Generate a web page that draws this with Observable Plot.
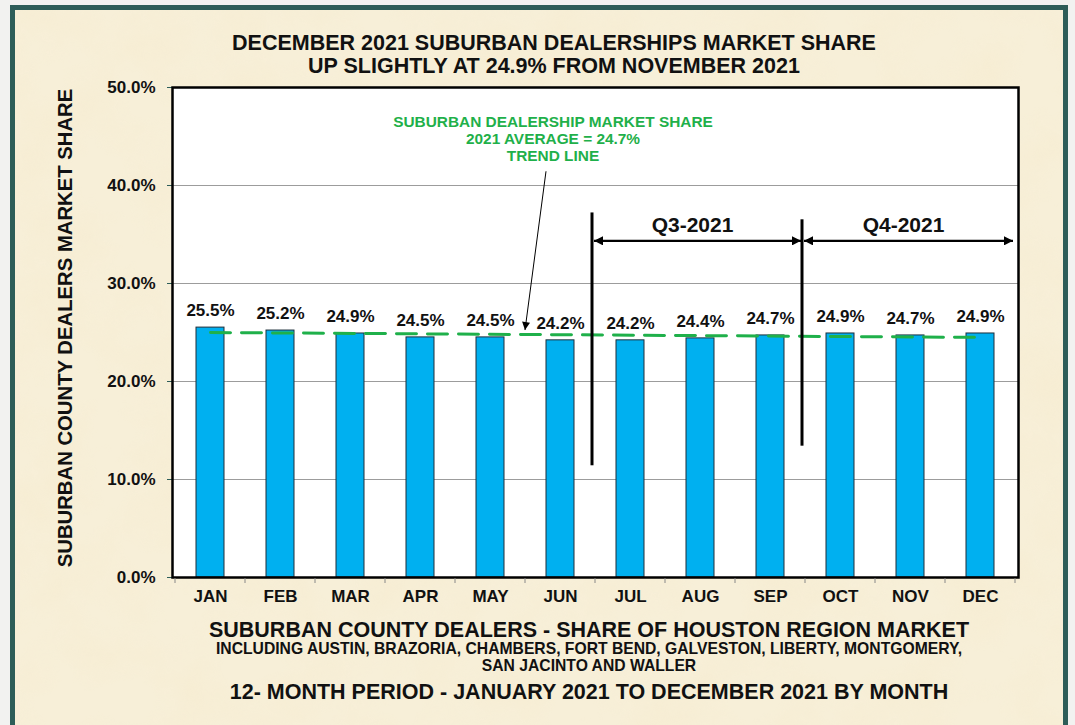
<!DOCTYPE html>
<html><head><meta charset="utf-8">
<script src="https://cdn.jsdelivr.net/npm/d3@7"></script>
<script src="https://cdn.jsdelivr.net/npm/@observablehq/plot@0.6"></script>
<style>
html,body{margin:0;padding:0;background:#f2f2f0;width:1075px;height:725px;overflow:hidden;font-family:"Liberation Sans",Arial,sans-serif;}
#frame{position:absolute;left:10px;top:5px;width:1048px;height:740px;border:5px solid #2d5d58;background:#f6edd4;overflow:hidden;}
#tex{position:absolute;left:0;top:0;}
#chart{position:absolute;left:0;top:0;}
</style></head><body>
<div id="frame">
<svg id="tex" width="1048" height="740">
  <filter id="paper" x="0" y="0" width="100%" height="100%">
    <feTurbulence type="fractalNoise" baseFrequency="0.015" numOctaves="4" seed="7"/>
    <feColorMatrix type="matrix" values="0 0 0 0 0.92  0 0 0 0 0.82  0 0 0 0 0.60  1.3 0 0 0 -0.5"/>
  </filter>
  <rect width="100%" height="100%" fill="#f7efd8"/>
  <rect width="100%" height="100%" filter="url(#paper)" opacity="0.6"/>
</svg>
</div>
<div id="chart"></div>
<script>
// ---- data ----
const months = ["JAN","FEB","MAR","APR","MAY","JUN","JUL","AUG","SEP","OCT","NOV","DEC"];
const shares = [25.5, 25.2, 24.9, 24.5, 24.5, 24.2, 24.2, 24.4, 24.7, 24.9, 24.7, 24.9];
const yTicks = [0, 10, 20, 30, 40, 50];
const gridValues = [10, 20, 30, 40];
const trendMonths = ["JAN", "DEC"];
const trendValues = [25.0, 24.5];
const quarterNames = ["Q3-2021", "Q4-2021"];
const quarterFirst = ["JUL", "OCT"];
const quarterLast = ["SEP", "DEC"];
const quarterLineLow = [11.4, 13.4];
const quarterLineHigh = [37.2, 36.5];
const quarterArrowY = 34.3;
const quarterLabelY = 35.2;
const titleLines = ["DECEMBER 2021 SUBURBAN DEALERSHIPS MARKET SHARE", "UP SLIGHTLY AT 24.9% FROM NOVEMBER 2021"];
const yLabel = "SUBURBAN COUNTY DEALERS MARKET SHARE";
const noteLines = ["SUBURBAN DEALERSHIP MARKET SHARE", "2021 AVERAGE = 24.7%", "TREND LINE"];
const noteY = [45.9, 44.2, 42.5];
const noteArrow = {month: "JUN", y1: 41.4, y2: 25.2};
const caption1 = "SUBURBAN COUNTY DEALERS - SHARE OF HOUSTON REGION MARKET";
const caption2 = ["INCLUDING AUSTIN, BRAZORIA, CHAMBERS, FORT BEND, GALVESTON, LIBERTY, MONTGOMERY,", "SAN JACINTO AND WALLER"];
const caption3 = "12- MONTH PERIOD - JANUARY 2021 TO DECEMBER 2021 BY MONTH";

const data = months.map((m, i) => ({month: m, share: shares[i]}));
const trend = trendMonths.map((m, i) => ({month: m, v: trendValues[i]}));
const FONT = "Liberation Sans, Arial, sans-serif";
const pct = d => d.toFixed(1) + "%";

const plot = Plot.plot({
  width: 1075, height: 725,
  marginLeft: 172, marginRight: 57, marginTop: 87, marginBottom: 148,
  style: {background: "transparent", fontFamily: FONT, overflow: "visible"},
  x: {domain: months, paddingInner: 0.6, paddingOuter: 0.3, label: null},
  y: {domain: [0, 50], label: null},
  marks: [
    Plot.frame({fill: "white", stroke: "none"}),
    Plot.ruleY(gridValues, {stroke: "#9c9c9c", strokeWidth: 1}),
    Plot.barY(data, {x: "month", y: "share", fill: "#00b0f0", stroke: "#1e2e3a", strokeWidth: 1}),
    Plot.line(trend, {x: "month", y: "v", stroke: "#1fb04a", strokeWidth: 3, strokeDasharray: "20,11"}),
    Plot.text(data, {x: "month", y: "share", text: d => pct(d.share), dy: -17, fontSize: 17, fontWeight: "bold", fill: "#111"}),
    Plot.axisY({ticks: yTicks, tickFormat: pct, tickSize: 5, tickPadding: 12, fontSize: 17, fontWeight: "bold", color: "#111", stroke: "#2d5d58", label: null}),
    Plot.axisX({tickSize: 0, tickPadding: 12, fontSize: 17, fontWeight: "bold", color: "#111", label: null}),
    Plot.frame({stroke: "#000", strokeWidth: 2.5})
  ]
});
document.getElementById("chart").appendChild(plot);

const sx = plot.scale("x"), sy = plot.scale("y");
const bw = sx.bandwidth;
const step = sx.step ?? bw / (1 - 0.6);
const gap = (step - bw) / 2;
const leftEdge = m => sx.apply(m) - gap;
const rightEdge = m => sx.apply(m) + bw + gap;
const Y = v => sy.apply(v);
const titleX = 554;
const captionX = 589;

const svg = d3.select(plot);
const defs = svg.append("defs");
defs.append("marker").attr("id", "ah").attr("viewBox", "0 0 10 10").attr("refX", 10).attr("refY", 5)
  .attr("markerWidth", 11).attr("markerHeight", 9).attr("markerUnits", "userSpaceOnUse").attr("orient", "auto-start-reverse")
  .append("path").attr("d", "M0,0L10,5L0,10z").attr("fill", "#000");
defs.append("marker").attr("id", "ahs").attr("viewBox", "0 0 10 10").attr("refX", 10).attr("refY", 5)
  .attr("markerWidth", 9).attr("markerHeight", 8).attr("markerUnits", "userSpaceOnUse").attr("orient", "auto")
  .append("path").attr("d", "M0,0L10,5L0,10z").attr("fill", "#000");

const g = svg.append("g").attr("font-family", FONT).attr("font-weight", "bold");

// x boundary ticks
const bounds = months.map(leftEdge).concat([rightEdge(months[months.length - 1])]);
g.selectAll(".bt").data(bounds).join("line")
  .attr("x1", d => d).attr("x2", d => d).attr("y1", Y(0) + 1).attr("y2", Y(0) + 6)
  .attr("stroke", "#888").attr("stroke-width", 1);

// titles
titleLines.forEach((t, i) => g.append("text").attr("x", titleX).attr("y", 50 + i * 23)
  .attr("text-anchor", "middle").attr("font-size", 21.5).attr("fill", "#111").text(t));

// y label
g.append("text").attr("transform", `translate(72,${(Y(0) + Y(50)) / 2 - 4}) rotate(-90)`)
  .attr("text-anchor", "middle").attr("font-size", 20.3).attr("fill", "#111").text(yLabel);

// bottom captions
g.append("text").attr("x", captionX).attr("y", 637).attr("text-anchor", "middle").attr("font-size", 21.5).attr("fill", "#111").text(caption1);
caption2.forEach((t, i) => g.append("text").attr("x", captionX).attr("y", 654 + i * 17)
  .attr("text-anchor", "middle").attr("font-size", 15.7).attr("fill", "#111").text(t));
g.append("text").attr("x", captionX).attr("y", 699).attr("text-anchor", "middle").attr("font-size", 21.5).attr("fill", "#111").text(caption3);

// trend note
const noteX = leftEdge(noteArrow.month) + 28;
noteLines.forEach((t, i) => g.append("text").attr("x", noteX).attr("y", Y(noteY[i]))
  .attr("text-anchor", "middle").attr("font-size", 15.4).attr("fill", "#1fb04a").text(t));
g.append("line").attr("x1", leftEdge(noteArrow.month) + 21).attr("y1", Y(noteArrow.y1))
  .attr("x2", leftEdge(noteArrow.month)).attr("y2", Y(noteArrow.y2))
  .attr("stroke", "#000").attr("stroke-width", 1).attr("marker-end", "url(#ahs)");

// quarter markers
quarterNames.forEach((q, i) => {
  const xa = leftEdge(quarterFirst[i]) - 3;
  const xb = i === quarterNames.length - 1 ? rightEdge(quarterLast[i]) - 2 : leftEdge(quarterFirst[i + 1]) - 4;
  g.append("line").attr("x1", xa).attr("x2", xa).attr("y1", Y(quarterLineLow[i])).attr("y2", Y(quarterLineHigh[i]))
    .attr("stroke", "#000").attr("stroke-width", 3);
  g.append("line").attr("x1", xa + 2).attr("x2", xb).attr("y1", Y(quarterArrowY)).attr("y2", Y(quarterArrowY))
    .attr("stroke", "#000").attr("stroke-width", 2.2)
    .attr("marker-start", "url(#ah)").attr("marker-end", "url(#ah)");
  g.append("text").attr("x", (xa + xb) / 2 - 4).attr("y", Y(quarterLabelY)).attr("text-anchor", "middle")
    .attr("font-size", 21).attr("fill", "#111").text(q);
});
</script>
</body></html>
